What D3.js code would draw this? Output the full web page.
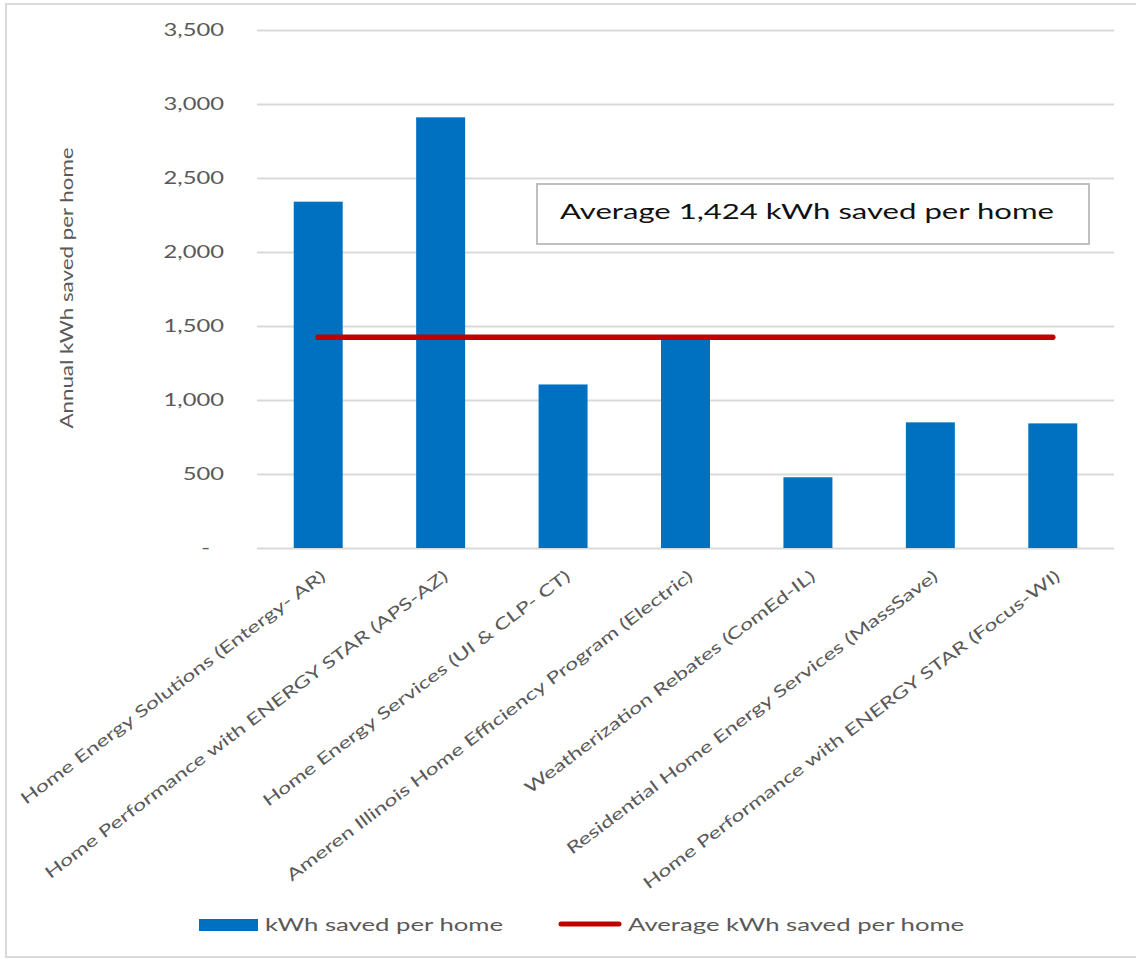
<!DOCTYPE html>
<html><head><meta charset="utf-8">
<script src="https://cdn.jsdelivr.net/npm/d3@7"></script>
<style>body{margin:0;background:#fff}</style></head>
<body>
<svg id="c" width="1136" height="959"></svg>
<script>
const categories = [
  "Home Energy Solutions (Entergy- AR)",
  "Home Performance with ENERGY STAR (APS-AZ)",
  "Home Energy Services (UI & CLP- CT)",
  "Ameren Illinois Home Efficiency Program (Electric)",
  "Weatherization Rebates (ComEd-IL)",
  "Residential Home Energy Services (MassSave)",
  "Home Performance with ENERGY STAR (Focus-WI)"
];
const savedPerHome = [2340, 2910, 1105, 1430, 478, 849, 842];
const averageSaved = [1424, 1424, 1424, 1424, 1424, 1424, 1424];
const yTicks = [0, 500, 1000, 1500, 2000, 2500, 3000, 3500];
const seriesNames = ["kWh saved per home", "Average kWh saved per home"];
const annotationText = "Average 1,424 kWh saved per home";
const yTitle = "Annual kWh saved per home";

const FONT = "Lato, 'Liberation Sans', sans-serif";
const GRAY = "#595959", BLUE = "#0070c0", RED = "#c00000", GRID = "#d9d9d9";
const svg = d3.select("#c");

// calibrate horizontal text stretch
const probe = svg.append("text").attr("font-family", FONT).attr("font-size", 22).text(annotationText);
const S = 494 / probe.node().getComputedTextLength();
probe.remove();

// outer border
svg.append("rect").attr("x", 6).attr("y", 4).attr("width", 1140).attr("height", 953)
  .attr("fill", "#fff").attr("stroke", GRID).attr("stroke-width", 2);

const x = d3.scaleBand().domain(categories).range([257, 1114]).paddingInner(0.6).paddingOuter(0.3);
const y = d3.scaleLinear().domain([0, 3500]).range([548, 30]);

// y axis with gridlines
const ax = svg.append("g").attr("transform", "translate(257,0)")
  .call(d3.axisLeft(y).tickValues(yTicks).tickSize(-(1114 - 257)).tickPadding(0)
    .tickFormat(d => d === 0 ? "-" : d3.format(",")(d)));
ax.select(".domain").remove();
ax.selectAll(".tick line").attr("stroke", GRID).attr("stroke-width", 2);
ax.selectAll(".tick text")
  .attr("x", 0).attr("dy", "0.35em")
  .attr("font-family", FONT).attr("font-size", 16.8).attr("fill", GRAY)
  .attr("text-anchor", "end")
  .attr("transform", d => `translate(${d === 0 ? -47 : -33},0) scale(${S},1)`);

// bars
svg.append("g").selectAll("rect").data(categories).join("rect")
  .attr("x", d => x(d)).attr("width", x.bandwidth())
  .attr("y", (d, i) => y(savedPerHome[i]))
  .attr("height", (d, i) => y(0) - y(savedPerHome[i]))
  .attr("fill", BLUE);

// average line
const line = d3.line().x((d, i) => x(categories[i]) + x.bandwidth() / 2).y(d => y(d));
svg.append("path").datum(averageSaved).attr("d", line)
  .attr("fill", "none").attr("stroke", RED).attr("stroke-width", 5.5).attr("stroke-linecap", "round");

// annotation box
svg.append("rect").attr("x", 537).attr("y", 184).attr("width", 552).attr("height", 60)
  .attr("fill", "#fff").attr("stroke", "#bfbfbf").attr("stroke-width", 2);
svg.append("text").attr("font-family", FONT).attr("font-size", 22).attr("fill", "#111")
  .attr("transform", `translate(560,211) scale(${S},1)`).attr("dy", "0.35em").text(annotationText);

// category labels
svg.append("g").selectAll("g").data(categories).join("g")
  .attr("transform", d => `translate(${x(d) + x.bandwidth() / 2 + 5},574) rotate(-37)`)
  .append("text").attr("text-anchor", "end").attr("dy", "0.35em")
  .attr("font-family", FONT).attr("font-size", 16.3).attr("fill", GRAY)
  .attr("transform", `scale(${S},1)`).text(d => d);

// y title
svg.append("g").attr("transform", "translate(67,288) rotate(-90)")
  .append("text").attr("text-anchor", "middle").attr("dy", "0.35em")
  .attr("font-family", FONT).attr("font-size", 18).attr("fill", GRAY)
  .attr("transform", `scale(${S * 15.8 / 18},1)`).text(yTitle);

// legend
const lg = svg.append("g");
lg.append("rect").attr("x", 199).attr("y", 919).attr("width", 59).attr("height", 12).attr("fill", BLUE);
lg.append("text").attr("font-family", FONT).attr("font-size", 18.2).attr("fill", GRAY).attr("dy", "0.35em")
  .attr("transform", `translate(265,925) scale(${S},1)`).text(seriesNames[0]);
lg.append("line").attr("x1", 561).attr("x2", 619).attr("y1", 924).attr("y2", 924)
  .attr("stroke", RED).attr("stroke-width", 5).attr("stroke-linecap", "round");
lg.append("text").attr("font-family", FONT).attr("font-size", 18.2).attr("fill", GRAY).attr("dy", "0.35em")
  .attr("transform", `translate(628,925) scale(${S},1)`).text(seriesNames[1]);
</script>
</body></html>
